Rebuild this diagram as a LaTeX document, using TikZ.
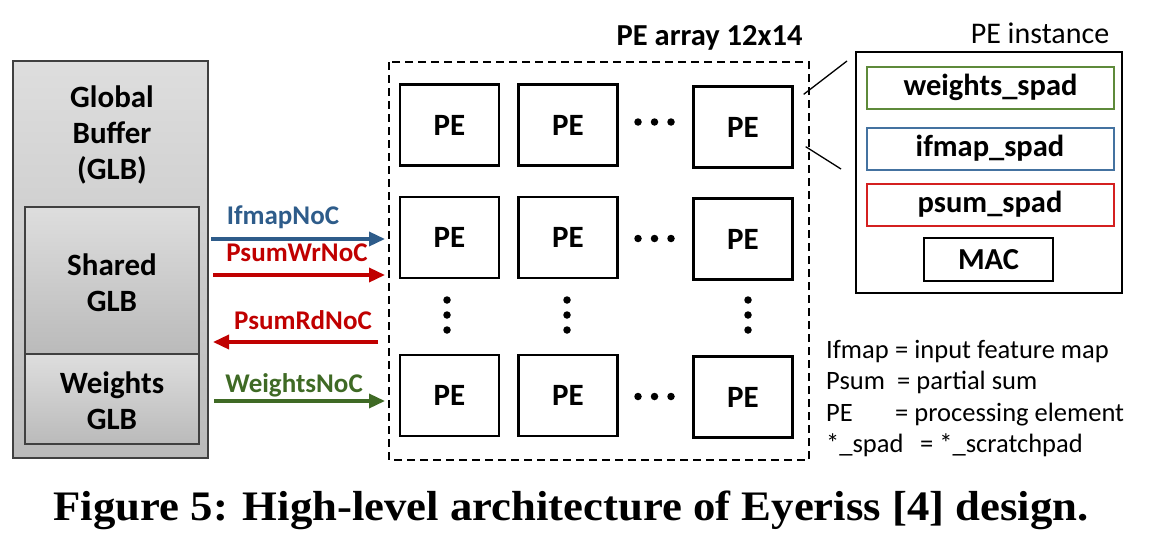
\documentclass[tikz,border=0pt]{standalone}
\usepackage{fontspec}
\setmainfont{Carlito}
\newfontfamily\capfont{Liberation Serif}
\usetikzlibrary{arrows.meta,calc}
\definecolor{cblue}{HTML}{2E5C8A}
\definecolor{cred}{HTML}{C00000}
\definecolor{cgreen}{HTML}{3F6A25}
\definecolor{sgreen}{HTML}{5E8A3A}
\definecolor{sblue}{HTML}{4472A0}
\definecolor{sred}{HTML}{D42020}
\definecolor{glbedge}{HTML}{404040}
\tikzset{
  glbbox/.style={draw=glbedge,line width=2pt,top color=black!13,bottom color=black!27,inner sep=0pt},
  pebox/.style={draw,line width=2.3pt,minimum width=99pt,minimum height=81pt,inner sep=0pt,font=\fontsize{31}{36}\selectfont\bfseries},
  dotc/.style={fill,circle,inner sep=0pt,minimum size=7.5pt},
  noc/.style={line width=3.5pt,-{Triangle[length=16pt,width=14pt]}},
  noclbl/.style={font=\fontsize{27}{32}\selectfont\bfseries,anchor=base},
  spadbox/.style={draw,line width=2pt,minimum width=247pt,minimum height=42pt,inner sep=0pt,font=\fontsize{30.5}{35}\selectfont\bfseries},
  legl/.style={anchor=base west,font=\fontsize{26.5}{31}\selectfont,inner sep=0pt},
  glbtext/.style={align=center,font=\fontsize{31}{36}\selectfont\bfseries},
}
\begin{document}
\begin{tikzpicture}[x=1pt,y=-1pt]
\useasboundingbox (0,0) rectangle (1154,538);
% Global buffer
\node[glbbox,minimum width=195pt,minimum height=397pt] (glb) at (110.5,259.5) {};
\node[glbbox,minimum width=174pt,minimum height=147pt] (shared) at (112,280.5) {};
\node[glbbox,minimum width=174pt,minimum height=90pt] (wglb) at (112,399) {};
\node[glbtext] (glbtxt) at (112,135) {Global\\Buffer\\(GLB)};
\node[glbtext] (shtxt) at (112,283) {Shared\\GLB};
\node[glbtext] (wtxt) at (112,401) {Weights\\GLB};
% PE array
\draw[line width=2pt,dash pattern=on 8pt off 5pt] (389,62) rectangle (809,460);
\coordinate (arrW) at (389,260);
\node[anchor=base east,font=\fontsize{30.5}{36}\selectfont\bfseries] (arrtitle) at (806,45) {PE array 12x14};
\node[pebox] (p11) at (449.5,125) {PE};
\node[pebox] (p12) at (568,125) {PE};
\node[pebox] (p13) at (743,127) {PE};
\node[pebox] (p21) at (449.5,237.5) {PE};
\node[pebox] (p22) at (568,237.5) {PE};
\node[pebox] (p23) at (743,239) {PE};
\node[pebox] (p31) at (449.5,395.5) {PE};
\node[pebox] (p32) at (568,395.5) {PE};
\node[pebox] (p33) at (743,397) {PE};
\foreach \y [count=\i] in {122,238.5,396.5}{
  \foreach \x [count=\j] in {638,654.5,671}{ \node[dotc] (h\i\j) at (\x,\y) {}; }
}
\foreach \x [count=\i] in {447,567,748}{
  \foreach \y [count=\j] in {300,315,330}{ \node[dotc] (v\i\j) at (\x,\y) {}; }
}
% NoC arrows
\draw[noc,cblue] ([xshift=2pt]glb.east |- 0,239) -- ([xshift=-4pt]arrW |- 0,239);
\node[noclbl,text=cblue] (l1) at (283,224) {IfmapNoC};
\draw[noc,cred] ([xshift=4pt]glb.east |- 0,275) -- ([xshift=-4pt]arrW |- 0,275);
\node[noclbl,text=cred] (l2) at (297,261) {PsumWrNoC};
\draw[noc,cred] ([xshift=-11pt]arrW |- 0,342) -- ([xshift=4pt]glb.east |- 0,342);
\node[noclbl,text=cred] (l3) at (303,329) {PsumRdNoC};
\draw[noc,cgreen] ([xshift=5pt]glb.east |- 0,401) -- ([xshift=-4pt]arrW |- 0,401);
\node[noclbl,text=cgreen] (l4) at (294,392) {WeightsNoC};
% PE instance
\node[draw,line width=2pt,minimum width=266pt,minimum height=241pt,inner sep=0pt] (inst) at (989,172.5) {};
\node[anchor=base,font=\fontsize{30}{35}\selectfont] (insttitle) at (1040,43) {PE instance};
\node[spadbox,draw=sgreen] (wsp) at (990.5,87.5) {weights\_spad};
\node[spadbox,draw=sblue] (isp) at (990,148.5) {ifmap\_spad};
\node[spadbox,draw=sred] (psp) at (990,204.5) {psum\_spad};
\node[draw,line width=2pt,minimum width=129pt,minimum height=43pt,inner sep=0pt,font=\fontsize{30.5}{35}\selectfont\bfseries] (mac) at (988.5,259.5) {MAC};
\draw[line width=1.3pt] ([xshift=10pt,yshift=-9pt]p13.north east) -- ([xshift=-8pt,yshift=-10pt]inst.north west);
\draw[line width=1.3pt] ([xshift=12pt,yshift=22pt]p13.south east) -- ([xshift=-14pt,yshift=-118pt]inst.north west);
% legend
\node[legl] (k1) at (826,358) {Ifmap};
\node[legl] (d1) at (895,358) {= input feature map};
\node[legl] (k2) at (826,389.5) {Psum};
\node[legl] (d2) at (897,389.5) {= partial sum};
\node[legl] (k3) at (826,421) {PE};
\node[legl] (d3) at (895,421) {= processing element};
\node[legl] (k4) at (826,452.5) {*\_spad};
\node[legl] (d4) at (920,452.5) {= *\_scratchpad};
% caption
\node[anchor=base,inner sep=0pt] (cap) at (571,520) {\scalebox{1.065}[1]{\capfont\bfseries\fontsize{42}{48}\selectfont Figure 5: High-level architecture of Eyeriss [4] design.}};
\end{tikzpicture}
\end{document}
